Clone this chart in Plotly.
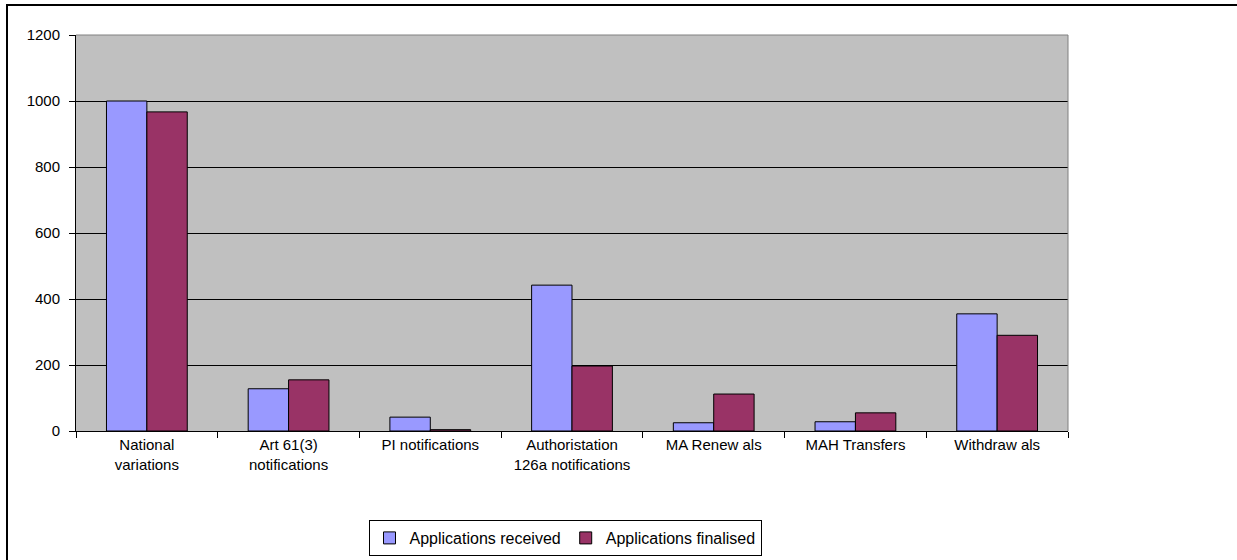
import plotly.graph_objects as go

categories = ["National<br>variations", "Art 61(3)<br>notifications", "PI notifications",
              "Authoristation<br>126a notifications", "MA Renew als", "MAH Transfers", "Withdraw als"]
received = [1000, 128, 42, 442, 25, 28, 355]
finalised = [967, 155, 4, 197, 112, 55, 290]
y_ticks = [0, 200, 400, 600, 800, 1000, 1200]

W, H = 1237, 560
L, R, T, B = 76, 1068, 35, 431

def px_x(p):
    return (p - L) / (R - L)

def px_y(p):
    return (B - p) / (B - T)

fig = go.Figure()
fig.add_trace(go.Bar(x=categories, y=received, name="Applications received",
                     marker=dict(color="#9999FF", line=dict(color="black", width=1))))
fig.add_trace(go.Bar(x=categories, y=finalised, name="Applications finalised",
                     marker=dict(color="#993366", line=dict(color="black", width=1))))

fig.update_layout(
    width=W, height=H,
    margin=dict(l=L, r=W - R, t=T, b=H - B, autoexpand=False),
    paper_bgcolor="white", plot_bgcolor="#C0C0C0",
    barmode="group", bargap=0.43, bargroupgap=0,
    font=dict(family="Liberation Sans, Arial, sans-serif", size=15, color="black"),
    showlegend=True,
    legend=dict(orientation="h", x=px_x(565), y=px_y(538), xanchor="center", yanchor="middle",
                bordercolor="black", borderwidth=1, bgcolor="white",
                font=dict(size=16), itemwidth=30, tracegroupgap=0),
    xaxis=dict(showline=True, linecolor="black", linewidth=1, ticks="outside",
               tickson="boundaries", ticklen=6, tickcolor="black", showgrid=False,
               tickangle=0, fixedrange=True),
    yaxis=dict(range=[0, 1200], tickvals=y_ticks, showline=True, linecolor="black",
               linewidth=1, ticks="outside", ticklen=6, tickcolor="black",
               ticklabelstandoff=6,
               showgrid=True, gridcolor="black", gridwidth=1, zeroline=False,
               fixedrange=True),
    shapes=[
        dict(type="rect", xref="paper", yref="paper", x0=px_x(7), y0=px_y(5),
             x1=px_x(1250), y1=px_y(575), line=dict(color="black", width=2),
             layer="below"),
        dict(type="line", xref="paper", yref="paper", x0=0, x1=1, y0=1, y1=1,
             line=dict(color="#808080", width=1)),
        dict(type="line", xref="paper", yref="paper", x0=1, x1=1, y0=0, y1=1,
             line=dict(color="#808080", width=1)),
    ],
)

fig.write_html("out.html", config={"displayModeBar": False},
               post_script="document.body.style.margin='0';")
